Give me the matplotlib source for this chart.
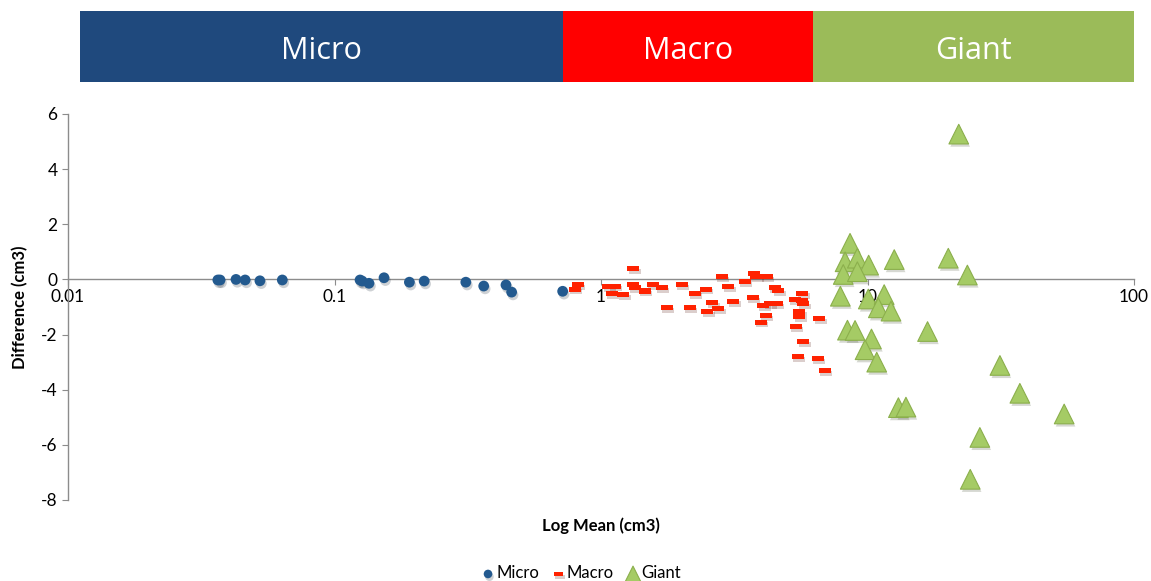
import matplotlib
matplotlib.use("Agg")
import matplotlib.pyplot as plt
import matplotlib.patheffects as pe

plt.rcParams['font.family'] = ['Lato', 'DejaVu Sans']
plt.rcParams['axes.unicode_minus'] = False

# size class bands (log mean, cm3)
band_names = ['Micro', 'Macro', 'Giant']
band_edges = [0.0111, 0.72, 6.24, 100]
band_colors = ['#1F497D', '#FF0000', '#9BBB59']

micro_x = [0.0365, 0.0372, 0.0427, 0.0462, 0.0525, 0.0637, 0.1247, 0.127, 0.1347,
           0.1534, 0.191, 0.217, 0.311, 0.363, 0.440, 0.462, 0.718]
micro_y = [-0.02, -0.02, 0.0, -0.02, -0.05, -0.02, -0.02, -0.06, -0.14,
           0.06, -0.10, -0.06, -0.10, -0.24, -0.20, -0.46, -0.43]

macro_x = [0.798, 0.819, 1.32, 1.065, 1.129, 1.097, 1.213, 1.32, 1.342, 1.462,
           1.563, 1.689, 2.009, 2.253, 1.764, 2.158, 2.47, 2.617, 2.505, 2.754,
           2.838, 3.005, 3.136, 3.47, 3.76, 3.82, 4.19, 3.71, 4.06, 4.31,
           4.56, 4.50, 4.63, 4.16, 3.97, 5.35, 5.69, 5.66, 5.74, 5.55,
           5.55, 5.39, 6.59, 5.74, 5.47, 6.50, 6.93]
macro_y = [-0.35, -0.20, 0.40, -0.26, -0.24, -0.50, -0.54, -0.20, -0.29, -0.42,
           -0.18, -0.29, -0.18, -0.50, -1.03, -1.03, -0.35, -0.85, -1.17, -1.07,
           0.10, -0.26, -0.79, -0.07, 0.20, 0.10, 0.10, -0.66, -0.96, -0.87,
           -0.87, -0.29, -0.41, -1.30, -1.55, -0.72, -0.50, -0.75, -0.87, -1.17,
           -1.35, -1.72, -1.41, -2.25, -2.81, -2.88, -3.32]

giant_x = [22.0, 8.60, 8.24, 9.16, 10.1, 8.11, 9.16, 12.6, 20.1, 23.7,
           7.91, 10.07, 11.55, 10.98, 12.25, 8.41, 8.98, 10.35, 9.79, 10.83,
           16.8, 31.4, 37.3, 54.7, 13.06, 13.94, 26.4, 24.3]
giant_y = [5.27, 1.31, 0.64, 0.77, 0.52, 0.18, 0.28, 0.72, 0.77, 0.16,
           -0.61, -0.71, -0.55, -1.03, -1.15, -1.84, -1.85, -2.16, -2.55, -3.0,
           -1.89, -3.12, -4.13, -4.88, -4.65, -4.63, -5.73, -7.25]

W, H = 1151, 581
fig = plt.figure(figsize=(W / 100, H / 100), dpi=100)
ax = fig.add_axes([68 / W, 1 - 500 / H, (1134 - 68) / W, 386 / H])
top = fig.add_axes([68 / W, 1 - 82 / H, (1134 - 68) / W, 71 / H], sharex=ax)

shadow = [pe.SimplePatchShadow(offset=(1, -2), alpha=0.2), pe.Normal()]

ax.scatter(micro_x, micro_y, s=60, marker='o', color='#235A8F', linewidths=0,
           label='Micro', zorder=3, path_effects=shadow)
dash = [(-1, -0.42), (1, -0.42), (1, 0.42), (-1, 0.42), (-1, -0.42)]
ax.scatter(macro_x, macro_y, s=75, marker=dash, color='#FF2200', linewidths=0,
           label='Macro', zorder=3, path_effects=shadow)
ax.scatter(giant_x, giant_y, s=200, marker='^', color='#A5CB65', edgecolors='#8BAF4C',
           linewidths=0.8, label='Giant', zorder=4, path_effects=shadow)

ax.set_xscale('log')
ax.set_xlim(0.01, 100)
ax.set_ylim(-8, 6)
ax.set_yticks(range(-8, 7, 2))
ax.set_xticks([0.01, 0.1, 1, 10, 100])
ax.set_xticklabels(['0.01', '0.1', '1', '10', '100'])
ax.minorticks_off()

for s in ['top', 'right']:
    ax.spines[s].set_visible(False)
ax.spines['bottom'].set_position(('data', 0))
for s in ['left', 'bottom']:
    ax.spines[s].set_color('#8C8C8C')
    ax.spines[s].set_linewidth(1.0)
ax.tick_params(axis='both', colors='#8C8C8C', labelcolor='black', labelsize=12.5,
               length=4, direction='out')
ax.tick_params(axis='x', pad=3)

ax.set_xlabel('Log Mean (cm3)', fontsize=12, fontweight='bold')
ax.xaxis.set_label_coords(0.5, -0.045)
ax.set_ylabel('Difference (cm3)', fontsize=12, fontweight='bold')
ax.yaxis.set_label_coords(-0.037, 0.5)

ax.legend(loc='center', bbox_to_anchor=(0.481, -0.19), ncol=3, frameon=False,
          fontsize=12, handletextpad=0.05, columnspacing=0.7, handlelength=0.9,
          markerscale=0.8)

# category banners above the plot
for name, x0, x1, c in zip(band_names, band_edges[:-1], band_edges[1:], band_colors):
    top.axvspan(x0, x1, color=c, lw=0)
    top.text((x0 * x1) ** 0.5, 0.44, name, color='white', fontsize=22,
             ha='center', va='center', family=['Open Sans', 'DejaVu Sans'])
top.set_ylim(0, 1)
top.axis('off')

fig.savefig('out.png', dpi=100)
